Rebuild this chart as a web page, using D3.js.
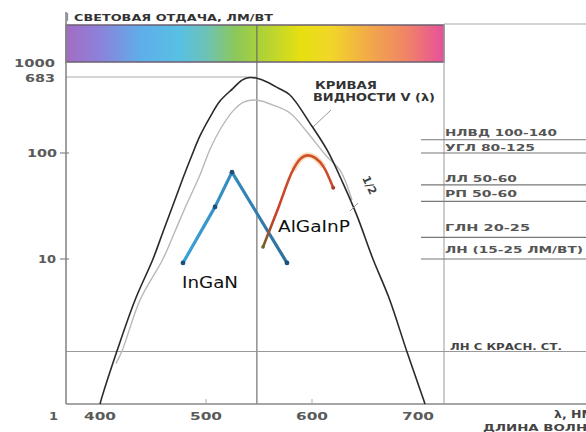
<!DOCTYPE html>
<html><head><meta charset="utf-8">
<script src="https://cdn.jsdelivr.net/npm/d3@7"></script>
<style>body{margin:0;background:#fff}svg{display:block}</style>
</head><body>
<svg id="c" width="586" height="432"></svg>
<script>
// ---- data ----
const xTicks = [400, 500, 600, 700];
const yTicks = [1, 10, 100, 683, 1000];
const yTickLabels = ["1", "10", "100", "683", "1000"];
// luminous efficiency curve V(λ)·683 (nm, lm/W)
const visWl  = [400,401.9,416,433,450,459.4,468.9,478.3,486.8,494.3,503.8,513.2,525.5,534,541.5,549,557.5,568,579.2,598,614.2,629.2,642.5,657.5,672.6,689.6,704.7,706.6];
const visVal = [1,1.12,2.32,5.2,10,18,32.3,58,95.8,154,248,372,512,632,675,656,601,517,433,213,108,52,25.5,10,5.4,2.29,1.1,1];
// lighter inner curve
const grayWl  = [415,420.8,437.7,459.4,470,480,494.3,503.8,513.2,525.5,535,544.3,553,563.2,579.2,595.3,614.2,626.4,637.7];
const grayVal = [1.9,2.32,5.2,10,17.5,30,62,110,180,290,360,382,370,336,275,170,92,69,36];
// LEDs
const inganWl  = [478.3, 508.5, 524.5, 576.4];
const inganVal = [9.4, 31, 66, 9.4];
const algaWl  = [553.8, 568, 582, 589, 596, 603, 611, 620];
const algaVal = [13, 30, 69, 88, 95, 90, 74, 47];
// reference light sources (label, efficacy level)
const srcLabels = ["НЛВД 100-140", "УГЛ 80-125", "ЛЛ 50-60", "РП 50-60", "ГЛН 20-25", "ЛН (15-25 ЛМ/ВТ)"];
const srcLevels = [140, 100, 50, 35, 16, 10];
const redLampLabel = "ЛН С КРАСН. СТ.";
const redLampLevel = 2.3;
const peakWl = 548;
const xMin = 400, xMax = 700;

// ---- scales ----
const x = d3.scaleLinear().domain([xMin, xMax]).range([100, 418]);
const y = d3.scaleLog().domain([1, 10, 100, 683, 1000]).range([404, 259, 153, 77, 62]);

const svg = d3.select("#c");
const FONT = "DejaVu Sans, Verdana, sans-serif";
const L = 66, R = 444, B = 404;

// spectrum bar gradient
const defs = svg.append("defs");
const g = defs.append("linearGradient").attr("id", "spec").attr("x1", "0%").attr("x2", "100%");
[[0,"#a46cc4"],[0.09,"#8c82da"],[0.2,"#5eaeea"],[0.3,"#58c0e2"],[0.37,"#6cc2b8"],[0.45,"#8cc858"],[0.52,"#aed236"],[0.62,"#e6e010"],[0.7,"#f2d628"],[0.8,"#f2aa48"],[0.9,"#f08466"],[1,"#e8509c"]]
  .forEach(([o,c]) => g.append("stop").attr("offset", o).attr("stop-color", c));

svg.append("rect").attr("x", L).attr("y", 25).attr("width", R - L).attr("height", 37)
  .attr("fill", "url(#spec)").attr("stroke", "#6d5f72").attr("stroke-width", 1.5);
svg.append("line").attr("x1", R).attr("x2", 586).attr("y1", 24).attr("y2", 24)
  .attr("stroke", "#aaa").attr("stroke-width", 1.2);

// frame lines
svg.append("line").attr("x1", R).attr("x2", R).attr("y1", 25).attr("y2", B).attr("stroke", "#aaa").attr("stroke-width", 1.2);
svg.append("line").attr("x1", x(peakWl)).attr("x2", x(peakWl)).attr("y1", 25).attr("y2", B).attr("stroke", "#666").attr("stroke-width", 1.1);
svg.append("line").attr("x1", L).attr("x2", x(peakWl)).attr("y1", y(683)).attr("y2", y(683)).attr("stroke", "#aaa").attr("stroke-width", 1.1);

// source lines
srcLevels.forEach((v, i) => {
  svg.append("line").attr("x1", 421).attr("x2", 586).attr("y1", y(v)).attr("y2", y(v))
    .attr("stroke", "#777").attr("stroke-width", 1.1);
});
svg.append("line").attr("x1", L).attr("x2", 586).attr("y1", y(redLampLevel)).attr("y2", y(redLampLevel))
  .attr("stroke", "#999").attr("stroke-width", 1.1);

// axes
svg.append("line").attr("x1", L).attr("x2", L).attr("y1", 12).attr("y2", B).attr("stroke", "#888").attr("stroke-width", 1.6);
svg.append("line").attr("x1", L).attr("x2", 586).attr("y1", B).attr("y2", B).attr("stroke", "#888").attr("stroke-width", 1.6);
[10, 100].forEach(v => svg.append("line").attr("x1", L - 6).attr("x2", L + 3).attr("y1", y(v)).attr("y2", y(v)).attr("stroke", "#888").attr("stroke-width", 1.2));
[500, 600].forEach(v => svg.append("line").attr("x1", x(v)).attr("x2", x(v)).attr("y1", B).attr("y2", B - 5).attr("stroke", "#aaa").attr("stroke-width", 1));

// tick labels
const tickStyle = s => s.attr("font-family", FONT).attr("font-size", 11).attr("font-weight", "bold").attr("fill", "#5a5a5a");
xTicks.forEach(v => {
  svg.append("text").attr("x", x(v)).attr("y", 420).attr("text-anchor", "middle")
    .attr("textLength", 32).attr("lengthAdjust", "spacingAndGlyphs").call(tickStyle).text(v);
});
const yLabelPos = {1:[58, 420, 9], 10:[56, 263, 18], 100:[57, 157, 30], 683:[55, 82, 30], 1000:[55, 67, 41]};
yTicks.forEach((v, i) => {
  const [px, py, w] = yLabelPos[v];
  svg.append("text").attr("x", px).attr("y", py).attr("text-anchor", "end")
    .attr("textLength", w).attr("lengthAdjust", "spacingAndGlyphs").call(tickStyle).text(yTickLabels[i]);
});

// curves
const line = d3.line().x(d => x(d[0])).y(d => y(d[1])).curve(d3.curveCatmullRom.alpha(0.5));
svg.append("path").datum(grayWl.map((w, i) => [w, grayVal[i]])).attr("d", line)
  .attr("fill", "none").attr("stroke", "#b8b8b8").attr("stroke-width", 1.4);
svg.append("path").datum(visWl.map((w, i) => [w, visVal[i]])).attr("d", line)
  .attr("fill", "none").attr("stroke", "#2a2a2a").attr("stroke-width", 1.6);

// InGaN
const lin = d3.line().x(d => x(d[0])).y(d => y(d[1]));
const ingan = inganWl.map((w, i) => [w, inganVal[i]]);
const bg = defs.append("linearGradient").attr("id", "blu").attr("gradientUnits", "userSpaceOnUse")
  .attr("x1", x(inganWl[0])).attr("x2", x(inganWl[3])).attr("y1", 0).attr("y2", 0);
bg.append("stop").attr("offset", 0).attr("stop-color", "#3aa2d8");
bg.append("stop").attr("offset", 1).attr("stop-color", "#2f6f9e");
svg.append("path").datum(ingan).attr("d", lin).attr("fill", "none").attr("stroke", "url(#blu)")
  .attr("stroke-width", 3.2).attr("stroke-linejoin", "round");
svg.selectAll(".bd").data(ingan).join("circle").attr("cx", d => x(d[0])).attr("cy", d => y(d[1]))
  .attr("r", 2.4).attr("fill", "#1d4f78");

// AlGaInP
const alga = algaWl.map((w, i) => [w, algaVal[i]]);
const smooth = d3.line().x(d => x(d[0])).y(d => y(d[1])).curve(d3.curveMonotoneX);
svg.append("path").datum(alga.slice(2, 7)).attr("d", smooth).attr("fill", "none")
  .attr("stroke", "#f4c88a").attr("stroke-width", 6).attr("opacity", 0.55);
const rg = defs.append("linearGradient").attr("id", "red").attr("gradientUnits", "userSpaceOnUse")
  .attr("x1", 0).attr("x2", 0).attr("y1", y(algaVal[0])).attr("y2", y(95));
rg.append("stop").attr("offset", 0).attr("stop-color", "#7a5a2a");
rg.append("stop").attr("offset", 0.35).attr("stop-color", "#c8432c");
rg.append("stop").attr("offset", 1).attr("stop-color", "#d0502c");
svg.append("path").datum(alga).attr("d", smooth).attr("fill", "none").attr("stroke", "url(#red)")
  .attr("stroke-width", 2.6).attr("stroke-linecap", "round");
svg.append("circle").attr("cx", x(algaWl[7])).attr("cy", y(algaVal[7])).attr("r", 2).attr("fill", "#a8402a");
svg.append("circle").attr("cx", x(algaWl[0])).attr("cy", y(algaVal[0])).attr("r", 1.8).attr("fill", "#6a6a2a");

// LED labels
svg.append("text").attr("x", 182).attr("y", 288).attr("font-family", FONT).attr("font-size", 15)
  .attr("textLength", 56).attr("lengthAdjust", "spacingAndGlyphs").attr("fill", "#111").text("InGaN");
svg.append("text").attr("x", 278).attr("y", 232).attr("font-family", FONT).attr("font-size", 15)
  .attr("textLength", 72).attr("lengthAdjust", "spacingAndGlyphs").attr("fill", "#111").text("AlGaInP");

// text labels
const lab = (t, px, py, w, size, col) => svg.append("text").attr("x", px).attr("y", py)
  .attr("font-family", FONT).attr("font-size", size).attr("font-weight", "bold").attr("fill", col || "#444")
  .attr("textLength", w).attr("lengthAdjust", "spacingAndGlyphs").text(t);
svg.append("text").attr("x", 66).attr("y", 21).attr("font-family", FONT).attr("font-size", 10).attr("fill", "#666").text("l");
lab("СВЕТОВАЯ ОТДАЧА, ЛМ/ВТ", 74, 21, 199, 9.5, "#333");
lab("КРИВАЯ", 315, 89, 62, 10.5, "#333");
lab("ВИДНОСТИ V (λ)", 313, 101, 122, 10.5, "#333");
svg.append("line").attr("x1", 331).attr("y1", 110).attr("x2", 313).attr("y2", 127).attr("stroke", "#999").attr("stroke-width", 1);

const srcW = [112, 90, 72, 72, 85, 138];
const srcY = [136, 151, 182, 197, 231, 253];
srcLabels.forEach((t, i) => lab(t, 445, srcY[i], srcW[i], 9.5, "#555"));
lab(redLampLabel, 450, 350, 112, 9.5, "#444");

// 1/2 label
svg.append("text").attr("transform", "translate(362,178) rotate(65)").attr("font-family", FONT)
  .attr("font-size", 11).attr("font-weight", "bold").attr("fill", "#444").text("1/2");
svg.append("line").attr("x1", 358).attr("y1", 203).attr("x2", 350).attr("y2", 211).attr("stroke", "#999").attr("stroke-width", 1);

// x-axis title (cut off at the right edge)
lab("λ, НМ", 554, 418, 40, 10, "#444");
lab("ДЛИНА ВОЛНЫ", 483, 431, 118, 9.5, "#444");
</script>
</body></html>
